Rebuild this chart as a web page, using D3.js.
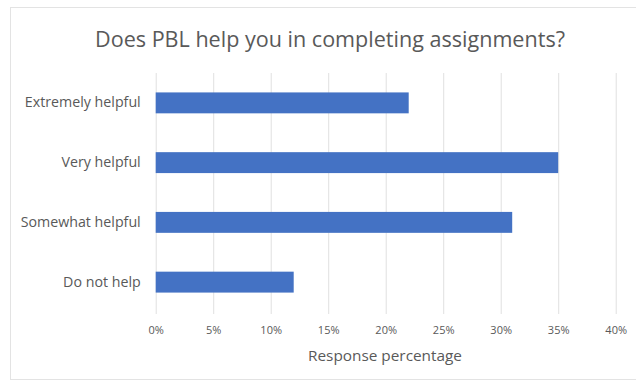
<!DOCTYPE html>
<html>
<head>
<meta charset="utf-8">
<script src="https://cdn.jsdelivr.net/npm/d3@7"></script>
<style>
  html, body { margin: 0; padding: 0; background: #fff; }
  svg { display: block; }
  text { font-family: "Open Sans", "Liberation Sans", sans-serif; fill: #595959; }
</style>
</head>
<body>
<svg id="chart" width="636" height="387"></svg>
<script>
const categories = ["Extremely helpful", "Very helpful", "Somewhat helpful", "Do not help"];
const values = [22, 35, 31, 12];
const tickValues = [0, 5, 10, 15, 20, 25, 30, 35, 40];
const titleText = "Does PBL help you in completing assignments?";
const xAxisTitle = "Response percentage";

const W = 636, H = 387;
const svg = d3.select("#chart");

// chart frame
svg.append("rect")
  .attr("x", 10.5).attr("y", 7.5)
  .attr("width", 640).attr("height", 372)
  .attr("fill", "#fff").attr("stroke", "#e3e3e3");

const x = d3.scaleLinear().domain([0, 40]).range([155.7, 615.7]);
const y = d3.scaleBand().domain(categories).range([73, 312]).paddingInner(0.65).paddingOuter(0.325);

function fit(sel, target) {
  const n = sel.node();
  const fs = parseFloat(sel.attr("font-size"));
  const w = n.getComputedTextLength();
  sel.attr("font-size", (fs * target / w).toFixed(2));
}

// gridlines
svg.append("g").selectAll("line").data(tickValues).join("line")
  .attr("x1", d => x(d) + 0.5).attr("x2", d => x(d) + 0.5)
  .attr("y1", 73).attr("y2", 314)
  .attr("stroke", "#e0e0e0").attr("stroke-width", 1);

// bars
svg.append("g").selectAll("rect").data(values).join("rect")
  .attr("x", x(0))
  .attr("y", (d, i) => y(categories[i]))
  .attr("width", d => x(d) - x(0))
  .attr("height", y.bandwidth())
  .attr("fill", "#4472C4");

// x axis tick labels
const xAxis = d3.axisBottom(x).tickValues(tickValues).tickFormat(d => d + "%").tickSize(0).tickPadding(0);
const gx = svg.append("g").attr("transform", "translate(0,326)").call(xAxis);
gx.select(".domain").remove();
gx.selectAll("text").attr("font-size", 11).attr("fill", "#7a7a7a")
  .style("font-family", '"Open Sans", "Liberation Sans", sans-serif');

// y axis labels
const yAxis = d3.axisLeft(y).tickSize(0).tickPadding(15);
const gy = svg.append("g").attr("transform", `translate(${x(0)},0)`).call(yAxis);
gy.select(".domain").remove();
gy.selectAll("text").attr("font-size", 11).attr("fill", "#6a6a6a")
  .style("font-family", '"Open Sans", "Liberation Sans", sans-serif');
const sw = gy.selectAll("text").filter(d => d === "Somewhat helpful");
const swW = sw.node().getComputedTextLength();
const yfs = (11 * 120 / swW).toFixed(2);
gy.selectAll("text").attr("font-size", yfs);

// title
const t = svg.append("text")
  .attr("x", 330).attr("y", 47)
  .attr("text-anchor", "middle")
  .attr("font-size", 19)
  .attr("fill", "#595959")
  .text(titleText);
fit(t, 470);

// axis title
const at = svg.append("text")
  .attr("x", 385).attr("y", 361)
  .attr("text-anchor", "middle")
  .attr("font-size", 12)
  .attr("fill", "#6a6a6a")
  .text(xAxisTitle);
fit(at, 154);
</script>
</body>
</html>
